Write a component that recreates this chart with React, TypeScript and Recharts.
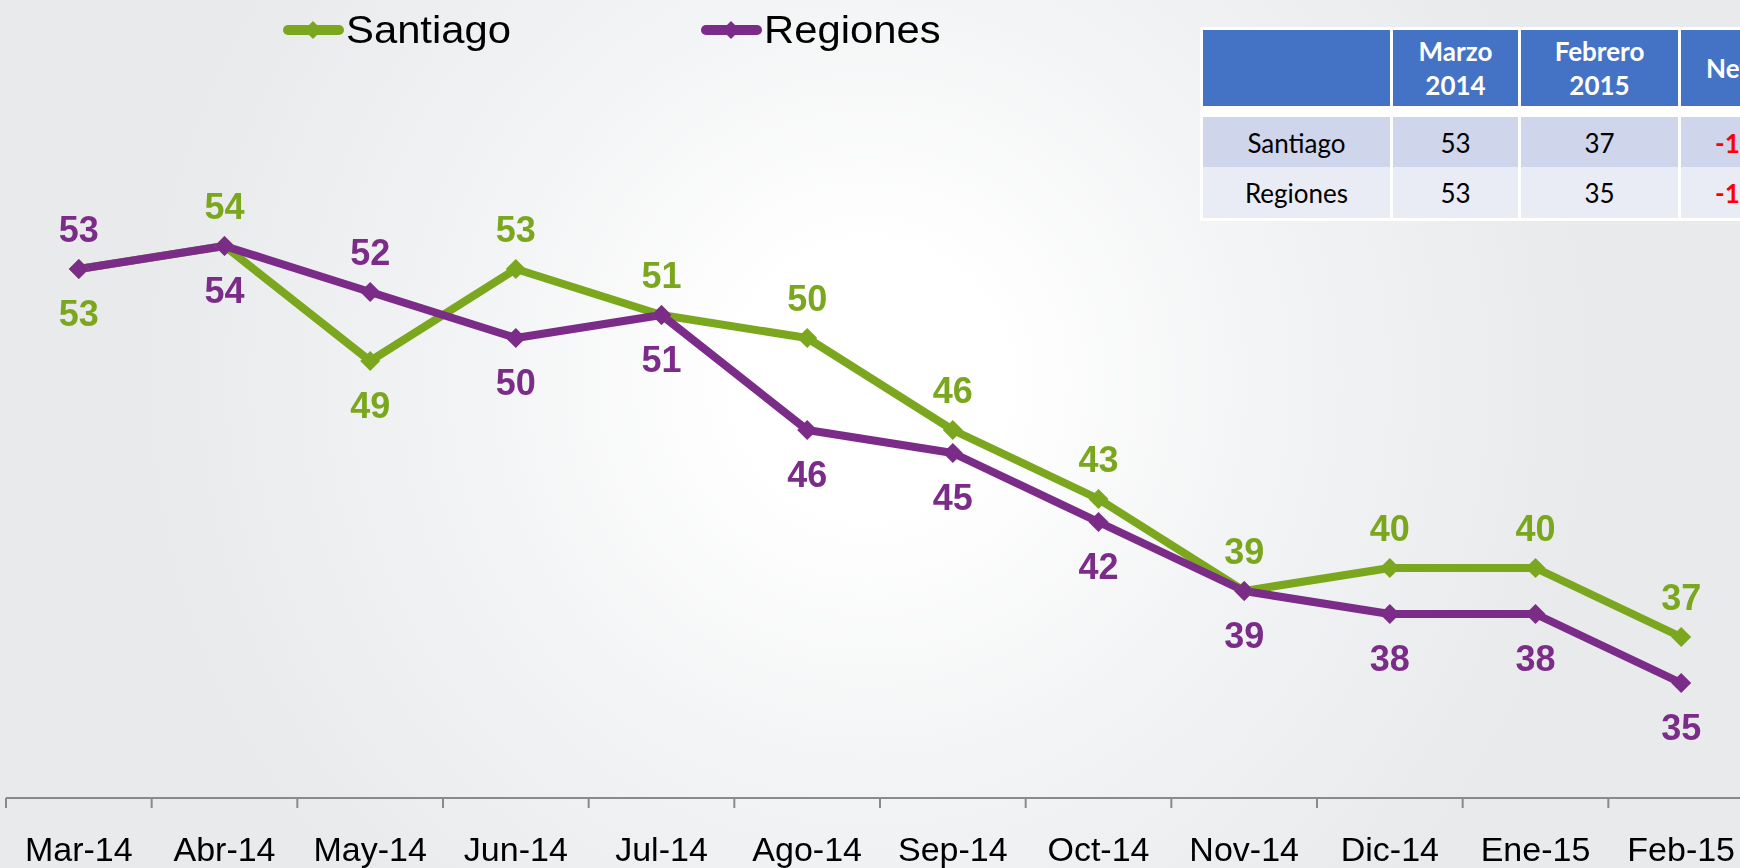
import React from 'react';
import { LineChart, Line, XAxis, YAxis } from 'recharts';

const months = ['Mar-14', 'Abr-14', 'May-14', 'Jun-14', 'Jul-14', 'Ago-14', 'Sep-14', 'Oct-14', 'Nov-14', 'Dic-14', 'Ene-15', 'Feb-15'];
const santiago = [53, 54, 49, 53, 51, 50, 46, 43, 39, 40, 40, 37];
const regiones = [53, 54, 52, 50, 51, 46, 45, 42, 39, 38, 38, 35];

// which side of the point each value label sits on
const santiagoLabelSide = ['below', 'above', 'below', 'above', 'above', 'above', 'above', 'above', 'above', 'above', 'above', 'above'];
const regionesLabelSide = ['above', 'below', 'above', 'below', 'below', 'below', 'below', 'below', 'below', 'below', 'below', 'below'];

const tableHeader = ['', 'Marzo\n2014', 'Febrero\n2015', 'Neto'];
const tableNames = ['Santiago', 'Regiones'];
const tableMarzo = [53, 53];
const tableFebrero = [37, 35];
const tableNeto = [-16, -18];

const GREEN = '#7BA71E';
const PURPLE = '#7B2B88';
const FONT = '"Liberation Sans", Arial, sans-serif';

const CHART_W = 1760;
const CHART_H = 868;
const MARGIN = { top: 108, right: 6, bottom: 0, left: 6 };
const BAND = (CHART_W - MARGIN.left - MARGIN.right) / months.length;

const chartData = months.map((month, i) => ({
  month,
  Santiago: santiago[i],
  Regiones: regiones[i],
}));

const makeDiamond = (color: string) => (props: any) => {
  const { cx, cy, index } = props;
  if (cx == null || cy == null) return null;
  const r = 10;
  return (
    <polygon
      key={`d-${index}`}
      points={`${cx},${cy - r} ${cx + r},${cy} ${cx},${cy + r} ${cx - r},${cy}`}
      fill={color}
    />
  );
};

const makeLabel = (sides: string[], color: string) => (props: any) => {
  const { x, y, value, index } = props;
  const above = sides[index] === 'above';
  return (
    <text
      key={`l-${index}`}
      x={x}
      y={above ? y - 27 : y + 57}
      textAnchor="middle"
      fill={color}
      fontSize={36}
      fontWeight="bold"
      fontFamily={FONT}
    >
      {value}
    </text>
  );
};

const AxisTick = (props: any) => {
  const { x, y, payload, index } = props;
  const half = BAND / 2;
  return (
    <g>
      <line x1={x - half} y1={y - 10} x2={x - half} y2={y} stroke="#8a8a8a" strokeWidth={2} />
      {index === months.length - 1 && (
        <line x1={x + half} y1={y - 10} x2={x + half} y2={y} stroke="#8a8a8a" strokeWidth={2} />
      )}
      <text x={x} y={y + 53} textAnchor="middle" fill="#000" fontSize={34} fontFamily={FONT}>
        {payload.value}
      </text>
    </g>
  );
};

const LegendItem = ({ left, color, name }: { left: number; color: string; name: string }) => (
  <div style={{ position: 'absolute', left, top: 5, height: 50 }}>
    <svg width={62} height={50} style={{ position: 'absolute', left: 0, top: 0 }}>
      <line x1={5} y1={25} x2={56} y2={25} stroke={color} strokeWidth={10} strokeLinecap="round" />
      <polygon points="30,16 39,25 30,34 21,25" fill={color} />
    </svg>
    <span
      style={{
        position: 'absolute',
        left: 63,
        top: 6,
        fontFamily: FONT,
        fontSize: 38,
        lineHeight: '38px',
        whiteSpace: 'nowrap',
        color: '#000',
        transform: 'scaleX(1.1)',
        transformOrigin: 'left center',
      }}
    >
      {name}
    </span>
  </div>
);

const cellBase: React.CSSProperties = {
  display: 'flex',
  alignItems: 'center',
  justifyContent: 'center',
  textAlign: 'center',
  fontFamily: 'Lato, "Open Sans", sans-serif',
};

const SummaryTable = () => {
  const cols = '187px 125px 157px 108px';
  return (
    <div
      style={{
        position: 'absolute',
        left: 1200,
        top: 27,
        background: '#fff',
        padding: 3,
        display: 'grid',
        gridTemplateColumns: cols,
        gridTemplateRows: '80px 51px 51px',
        columnGap: 3,
        rowGap: 3,
      }}
    >
      {tableHeader.map((h, i) => (
        <div
          key={`h-${i}`}
          style={{
            ...cellBase,
            background: '#4472C4',
            color: '#fff',
            fontWeight: 'bold',
            fontSize: 26,
            lineHeight: '34px',
            whiteSpace: 'pre-line',
            marginBottom: 4,
          }}
        >
          {h}
        </div>
      ))}
      {tableNames.map((name, r) => {
        const bg = r === 0 ? '#CFD5EA' : '#E9EBF5';
        const cells = [name, tableMarzo[r], tableFebrero[r], tableNeto[r]];
        return cells.map((c, i) => (
          <div
            key={`c-${r}-${i}`}
            style={{
              ...cellBase,
              background: bg,
              color: i === 3 ? '#FF0000' : '#000',
              fontWeight: i === 3 ? 'bold' : 'normal',
              fontSize: 26,
              marginTop: r === 0 ? 4 : 0,
              marginBottom: r === 0 ? -4 : 0,
            }}
          >
            {c}
          </div>
        ));
      })}
    </div>
  );
};

export default function App() {
  return (
    <div
      style={{
        position: 'fixed',
        left: 0,
        top: 0,
        width: 1740,
        height: 868,
        overflow: 'hidden',
        background: 'radial-gradient(circle at 870px 380px, #ffffff 0px, #ffffff 130px, #f3f4f5 390px, #e9eaec 720px)',
      }}
    >
      <LineChart width={CHART_W} height={CHART_H} data={chartData} margin={MARGIN}>
        <XAxis
          dataKey="month"
          scale="point"
          padding={{ left: BAND / 2, right: BAND / 2 }}
          axisLine={{ stroke: '#8a8a8a', strokeWidth: 2 }}
          tickLine={false}
          tickSize={10}
          tickMargin={0}
          height={70}
          interval={0}
          tick={<AxisTick />}
        />
        <YAxis hide domain={[30, 60]} />
        <Line
          dataKey="Santiago"
          stroke={GREEN}
          strokeWidth={8}
          strokeLinejoin="round"
          dot={makeDiamond(GREEN)}
          activeDot={false}
          label={makeLabel(santiagoLabelSide, GREEN)}
          isAnimationActive={false}
        />
        <Line
          dataKey="Regiones"
          stroke={PURPLE}
          strokeWidth={8}
          strokeLinejoin="round"
          dot={makeDiamond(PURPLE)}
          activeDot={false}
          label={makeLabel(regionesLabelSide, PURPLE)}
          isAnimationActive={false}
        />
      </LineChart>
      <LegendItem left={283} color={GREEN} name="Santiago" />
      <LegendItem left={701} color={PURPLE} name="Regiones" />
      <SummaryTable />
    </div>
  );
}
